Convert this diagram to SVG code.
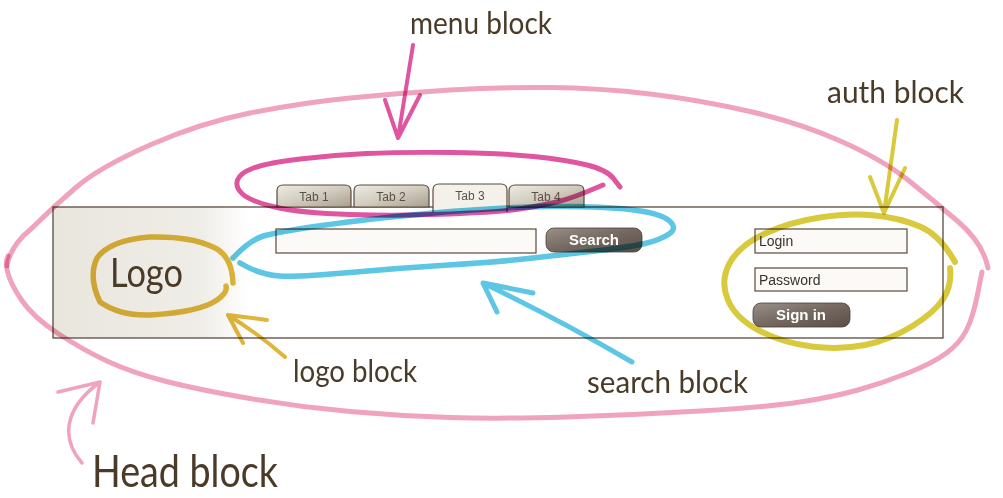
<svg xmlns="http://www.w3.org/2000/svg" width="1003" height="498" viewBox="0 0 1003 498">
<style>
.lbl{font-family:Lato,"Liberation Sans",sans-serif;fill:#4a3a28;}
.frm{stroke:#5a4a3c;stroke-width:1.3;}
.hl{fill:none;stroke-linecap:round;stroke-linejoin:round;mix-blend-mode:multiply;}
.pink{stroke:#f0a3bd;}
.mag{stroke:#e055a0;}
.blue{stroke:#5cc6e4;}
.yel{stroke:#d9c93c;}
.ora{stroke:#e0b63a;}
.tab{stroke:#5a4a3c;stroke-width:1.2;fill:url(#tabg);}
.tabt{font-family:"Liberation Sans",Arial,sans-serif;font-size:12px;fill:#5a5048;text-anchor:middle;}
.inp{fill:#fbfaf7;stroke:#5a4a3c;stroke-width:1.2;}
.btn{fill:url(#btng);stroke:#4a4038;stroke-width:0.8;}
.btnt{font-family:"Liberation Sans",Arial,sans-serif;font-size:15px;font-weight:bold;fill:#ffffff;text-anchor:middle;}
.fldt{font-family:"Liberation Sans",Arial,sans-serif;font-size:14px;fill:#3a3028;}
</style>
<defs>
<linearGradient id="frameg" gradientUnits="userSpaceOnUse" x1="53" y1="0" x2="250" y2="0">
<stop offset="0" stop-color="#e9e6de"/><stop offset="0.75" stop-color="#efede7"/><stop offset="1" stop-color="#ffffff"/>
</linearGradient>
<linearGradient id="tabg" x1="0" y1="0" x2="1" y2="1">
<stop offset="0" stop-color="#efebe2"/><stop offset="0.5" stop-color="#d2ccbf"/><stop offset="1" stop-color="#a89f8e"/>
</linearGradient>
<linearGradient id="btng" x1="0" y1="0" x2="1" y2="1">
<stop offset="0" stop-color="#9a9088"/><stop offset="0.5" stop-color="#746860"/><stop offset="1" stop-color="#5a4e46"/>
</linearGradient>
</defs>

<g id="frame">
<rect x="53" y="207" width="890" height="131" fill="url(#frameg)" class="frm"/>
</g>

<g id="tabs">
<path class="tab" d="M277,207 V191 Q277,185 283,185 H345 Q351,185 351,191 V207 Z"/>
<path class="tab" d="M354,207 V191 Q354,185 360,185 H423 Q429,185 429,191 V207 Z"/>
<path class="tab" d="M509,207 V191 Q509,185 515,185 H578 Q584,185 584,191 V207 Z"/>
<path d="M433,212 V190 Q433,184 439,184 H501 Q507,184 507,190 V212" fill="#f3f1ea" stroke="#5a4a3c" stroke-width="1.2"/>
<text class="tabt" x="314" y="201">Tab 1</text>
<text class="tabt" x="391" y="201">Tab 2</text>
<text class="tabt" x="470" y="200">Tab 3</text>
<text class="tabt" x="546" y="201">Tab 4</text>
</g>

<g id="search">
<rect class="inp" x="276" y="229" width="260" height="24"/>
<rect class="btn" x="546" y="228" width="96" height="24" rx="8"/>
<text class="btnt" x="594" y="245">Search</text>
</g>

<g id="auth">
<rect class="inp" x="755" y="229" width="152" height="24"/>
<text class="fldt" x="759" y="246">Login</text>
<rect class="inp" x="755" y="268" width="152" height="23"/>
<text class="fldt" x="759" y="285">Password</text>
<rect class="btn" x="753" y="303" width="97" height="24" rx="8"/>
<text class="btnt" x="801" y="320">Sign in</text>
</g>

<g id="logo">
<text class="lbl" x="110" y="287" font-size="40" textLength="73" lengthAdjust="spacingAndGlyphs">Logo</text>
</g>

<g id="head-block">
<path class="hl pink" stroke-width="5" d="M7,266 Q10,246 31.5,228.5 Q53,207 76.5,187 Q100,167 150,145 Q200,123 250,113 Q300,103 350,98 Q400,93 450,90 Q500,87 550,87.5 Q600,88 650,94 Q700,100 750,111.5 Q800,123 841.5,141.5 Q883,160 908,180 Q933,200 958,221.5 Q983,243 988,268"/>
<path class="hl pink" stroke-width="5" d="M982,272 L977.5,294.5 Q973,317 966.5,330 Q960,343 946.5,353 Q933,363 908,373 Q883,383 858,390 Q833,397 800,402 Q767,407 700,411 Q633,415 566.5,417 Q500,419 450,417.5 Q400,416 350,411.5 Q300,407 250,398.5 Q200,390 166.5,381.5 Q133,373 108,361.5 Q83,350 58,333.5 Q33,317 21.5,300 Q10,283 7.5,271.5 Q5,262 8,256"/>
<text class="lbl" x="92" y="487" font-size="44" textLength="186" lengthAdjust="spacingAndGlyphs">Head block</text>
</g>

<g id="menu-block">
<path class="hl mag" stroke-width="5" d="M603,185 L585,192.5 Q567,200 550,203.5 Q533,207 516.5,209.5 Q500,212 450,214 Q400,216 350,214.5 Q300,213 275,207 Q250,201 242.5,194 Q235,187 237.5,180 Q240,173 253.5,168 Q267,163 300,159 Q333,155 366.5,153.5 Q400,152 450,152.5 Q500,153 533.5,156.5 Q567,160 587,165 Q607,170 613.5,178.5 L620,187"/>
<text class="lbl" x="410" y="34" font-size="30" textLength="142" lengthAdjust="spacingAndGlyphs">menu block</text>
</g>

<g id="search-block">
<path class="hl blue" stroke-width="5.5" d="M233,258 Q250,240 263.5,236 Q277,232 322,225.5 Q367,219 433.5,213 Q500,207 550,206.5 Q600,206 630,209.5 Q660,213 669,220.5 Q678,228 669,234 Q660,240 645,243.5 Q630,247 595,251 Q560,255 528.5,258.5 Q497,262 448.5,265 Q400,268 350,272.5 Q300,277 280,276 Q260,275 240,263"/>
<text class="lbl" x="587" y="393" font-size="30" textLength="161" lengthAdjust="spacingAndGlyphs">search block</text>
</g>

<g id="auth-block">
<path class="hl yel" stroke-width="6" d="M955,262 Q940,235 920,226.5 Q900,218 875,215.5 Q850,213 820,217.5 Q790,222 765,233.5 Q740,245 730,262.5 Q720,280 727.5,299 Q735,318 759,330.5 Q783,343 811.5,346.5 Q840,350 865,345 Q890,340 912.5,326 Q935,312 943.5,298.5 Q952,285 950,268"/>
<text class="lbl" x="827" y="103" font-size="30" textLength="137" lengthAdjust="spacingAndGlyphs">auth block</text>
</g>

<g id="logo-block">
<path class="hl ora" stroke-width="5.5" d="M233,283 Q232,255 213,247 Q190,236 150,237 Q110,240 97,258 Q88,277 100,302 Q120,316 150,315 Q200,312 217,300 Q228,292 226,286"/>
<text class="lbl" x="293" y="382" font-size="30" textLength="124" lengthAdjust="spacingAndGlyphs">logo block</text>
</g>

<g id="connectors">
<path class="hl pink" stroke-width="3.5" d="M82,463 C62,440 62,410 100,382 M58,392 L100,382 L93,423"/>
<path class="hl mag" stroke-width="4" d="M413,45 Q405,95 398,138 M385,100 L398,138 L420,95"/>
<path class="hl blue" stroke-width="5" d="M632,362 Q560,320 483,283 M533,293 L483,283 L497,312"/>
<path class="hl yel" stroke-width="4" d="M897,120 Q890,170 884,213 M870,177 L884,213 L905,168"/>
<path class="hl ora" stroke-width="4" d="M285,357 Q260,335 228,315 M267,320 L228,315 L243,343"/>
</g>
</svg>
